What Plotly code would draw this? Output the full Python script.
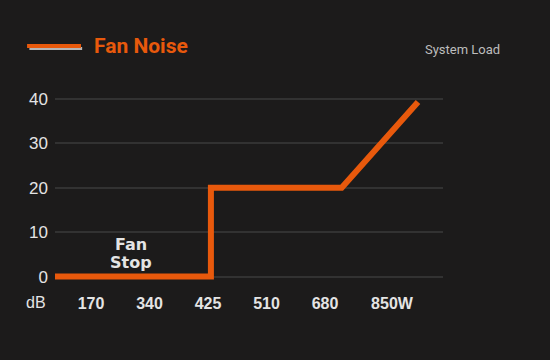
import plotly.graph_objects as go

# Data (x positions are on an evenly spaced load axis: 1=170W ... 6=850W)
tick_positions = [1, 2, 3, 4, 5, 6.145]
tick_labels = ["170", "340", "425", "510", "680", "850W"]
load_position = [0.385, 3.05, 3.05, 5.285, 6.59]
noise_db = [0, 0, 20, 20, 39.3]
y_ticks = [0, 10, 20, 30, 40]

BG = "#1c1b1b"
ORANGE = "#e8590c"
TEXT = "#e4e4e4"
GRID = "#323232"

fig = go.Figure()
fig.add_trace(go.Scatter(
    x=load_position, y=noise_db, mode="lines",
    line=dict(color=ORANGE, width=6),
    showlegend=False, hoverinfo="skip",
))

fig.update_layout(
    width=550, height=360,
    paper_bgcolor=BG, plot_bgcolor=BG,
    margin=dict(l=55, r=107, t=90, b=78.5),
    xaxis=dict(
        range=[0.385, 7.017], tickvals=tick_positions, ticktext=tick_labels,
        showgrid=False, zeroline=False, showline=False, ticks="",
        tickfont=dict(family="Liberation Sans", size=16, color=TEXT, weight="bold"),
        ticklabelstandoff=11,
    ),
    yaxis=dict(
        range=[-1, 42], tickvals=y_ticks,
        showgrid=True, gridcolor=GRID, gridwidth=2, zeroline=False, showline=False, ticks="",
        tickfont=dict(family="Liberation Sans", size=17, color=TEXT),
        ticklabelstandoff=6,
    ),
    shapes=[
        dict(type="line", xref="paper", yref="paper", x0=-0.066, x1=0.07, y0=1.2167, y1=1.2167,
             line=dict(color="#b5b5b5", width=3)),
        dict(type="line", xref="paper", yref="paper", x0=-0.072, x1=0.067, y0=1.2298, y1=1.2298,
             line=dict(color=ORANGE, width=4)),
    ],
    annotations=[
        dict(text="Fan Noise", xref="paper", yref="paper", x=0.096, y=1.2298,
             xanchor="left", yanchor="middle", showarrow=False,
             font=dict(family="Roboto", size=21, color=ORANGE, weight="bold")),
        dict(text="System Load", xref="paper", yref="paper", x=0.949, y=1.214,
             xanchor="left", yanchor="middle", showarrow=False,
             font=dict(family="Roboto", size=13, color="#bdbdbd")),
        dict(text="dB", xref="paper", yref="paper", x=-0.049, y=-0.11,
             xanchor="center", yanchor="middle", showarrow=False,
             font=dict(family="Liberation Sans", size=16, color=TEXT)),
        dict(text="Fan", xref="x", yref="y", x=1.68, y=7.2,
             xanchor="center", yanchor="middle", showarrow=False,
             font=dict(family="DejaVu Sans", size=16, color=TEXT, weight="bold")),
        dict(text="Stop", xref="x", yref="y", x=1.68, y=3.1,
             xanchor="center", yanchor="middle", showarrow=False,
             font=dict(family="DejaVu Sans", size=16, color=TEXT, weight="bold")),
    ],
)

fig.write_html("out.html", config={"displayModeBar": False},
               post_script="document.body.style.margin='0';")
